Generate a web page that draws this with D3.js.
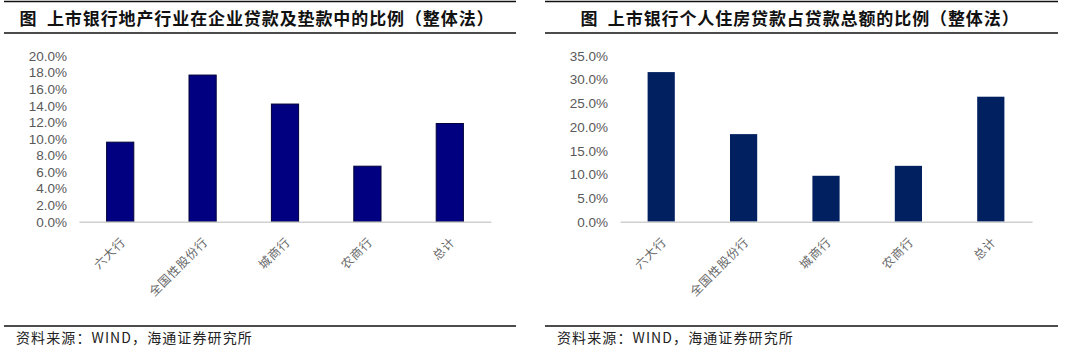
<!DOCTYPE html>
<html>
<head>
<meta charset="utf-8">
<script src="https://cdn.jsdelivr.net/npm/d3@7"></script>
<style>
  html, body { margin: 0; padding: 0; background: #fff; }
  svg { display: block; }
  .pre { white-space: pre; }
</style>
</head>
<body>
<svg id="chart" width="1080" height="349"></svg>
<script>
// Bank categories shared by both panels
const categories = ["六大行", "全国性股份行", "城商行", "农商行", "总计"];

// Real-estate loans as % of corporate loans and advances (aggregate method)
const realEstateShare = [9.6, 17.7, 14.2, 6.7, 11.85];
// Residential mortgages as % of total loans (aggregate method)
const mortgageShare = [31.6, 18.5, 9.7, 11.8, 26.4];

const leftTicks = [0, 2, 4, 6, 8, 10, 12, 14, 16, 18, 20];
const rightTicks = [0, 5, 10, 15, 20, 25, 30, 35];

const titles = [
  "图  上市银行地产行业在企业贷款及垫款中的比例（整体法）",
  "图  上市银行个人住房贷款占贷款总额的比例（整体法）"
];
const sourceText = "资料来源：WIND，海通证券研究所";

const svg = d3.select("#chart");

const panels = [
  { x0: 4, x1: 516, plotL: 79, plotR: 491, values: realEstateShare, ticks: leftTicks,
    max: 20, fill: "#000080", stroke: "#00003a", title: titles[0], titleX: 257 },
  { x0: 545, x1: 1058, plotL: 620, plotR: 1032, values: mortgageShare, ticks: rightTicks,
    max: 35, fill: "#002060", stroke: "none", title: titles[1], titleX: 800 }
];

const plotTop = 56, plotBottom = 221.7;

panels.forEach(p => {
  const g = svg.append("g");

  // Header and footer rules
  [1.5, 33, 326].forEach(y => {
    g.append("line")
      .attr("x1", p.x0).attr("x2", p.x1)
      .attr("y1", y).attr("y2", y)
      .attr("stroke", "#111").attr("stroke-width", 1.6);
  });

  g.append("text")
    .attr("class", "pre")
    .attr("x", p.titleX).attr("y", 25)
    .attr("text-anchor", "middle")
    .attr("font-family", "'Noto Sans CJK SC', sans-serif")
    .attr("font-weight", "bold")
    .attr("font-size", 17)
    .attr("letter-spacing", 0.9)
    .attr("fill", "#111")
    .text(p.title);

  g.append("text")
    .attr("x", p.x0 + 12).attr("y", 343)
    .attr("font-family", "'Noto Sans CJK SC', sans-serif")
    .attr("font-size", 14)
    .attr("letter-spacing", 1.1)
    .attr("fill", "#222")
    .text(sourceText);

  const x = d3.scaleBand()
    .domain(categories)
    .range([p.plotL, p.plotR])
    .paddingInner(0.67)
    .paddingOuter(0.335);

  const y = d3.scaleLinear()
    .domain([0, p.max])
    .range([plotBottom, plotTop]);

  // Y axis labels
  const yAxis = d3.axisLeft(y)
    .tickValues(p.ticks)
    .tickSize(0)
    .tickPadding(0)
    .tickFormat(d => d.toFixed(1) + "%");
  const ya = g.append("g")
    .attr("transform", `translate(${p.plotL - 12},0)`)
    .call(yAxis);
  ya.select(".domain").remove();
  ya.selectAll("text")
    .attr("font-family", "'Liberation Sans', Arial, sans-serif")
    .attr("font-size", 13.5)
    .attr("fill", "#595959");

  // Bars
  g.selectAll("rect.bar")
    .data(p.values)
    .join("rect")
    .attr("class", "bar")
    .attr("x", (d, i) => x(categories[i]))
    .attr("width", x.bandwidth())
    .attr("y", d => y(d))
    .attr("height", d => y(0) - y(d))
    .attr("fill", p.fill)
    .attr("stroke", p.stroke)
    .attr("stroke-width", 1);

  // Category axis
  const xAxis = d3.axisBottom(x).tickSize(0).tickPadding(0);
  const xa = g.append("g")
    .attr("transform", `translate(0,${plotBottom})`)
    .call(xAxis);
  xa.select(".domain")
    .attr("stroke", "#d0d0d0")
    .attr("stroke-width", 1.5);
  xa.selectAll("text")
    .attr("font-family", "'Noto Sans CJK SC', serif")
    .attr("font-size", 12)
    .attr("letter-spacing", 0.8)
    .attr("fill", "#666")
    .attr("text-anchor", "end")
    .attr("dy", 0)
    .attr("y", 0)
    .attr("transform", "translate(6,21) rotate(-45)");
});
</script>
</body>
</html>
